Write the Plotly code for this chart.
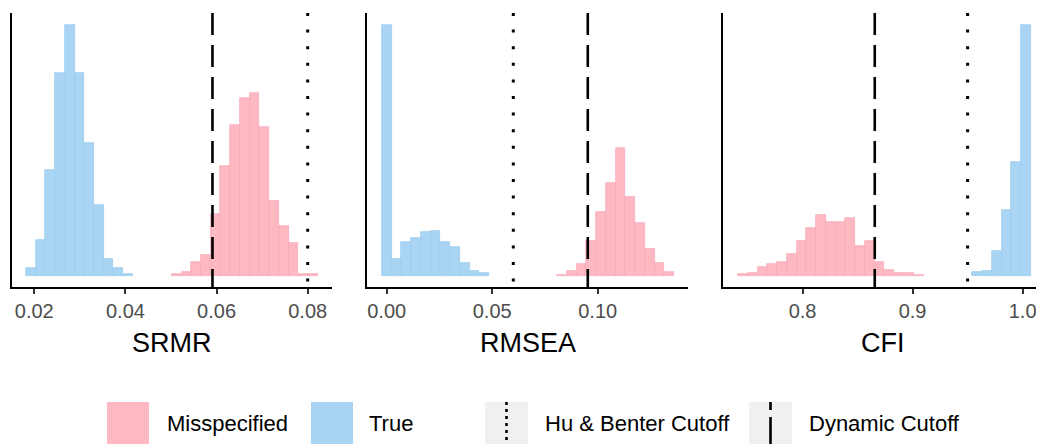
import plotly.graph_objects as go

# ---------------- data ----------------
N_BINS = 30
panels = ["SRMR", "RMSEA", "CFI"]

# histogram bin layout (first edge, bin width) per index
srmr_bin_start, srmr_bin_width = 0.01817, 0.002134
rmsea_bin_start, rmsea_bin_width = -0.00231, 0.004617
cfi_bin_start, cfi_bin_width = 0.7414, 0.00887

# counts per bin (30 bins each)
srmr_true = [8, 35, 102, 196, 242, 196, 128, 68, 16, 8, 2] + [0] * 19
srmr_mis = [0] * 15 + [2, 4, 13, 20, 60, 106, 146, 172, 176, 144, 72, 48, 32, 2, 2]

rmsea_true = [490, 34, 66, 75, 85, 87, 66, 56, 25, 10, 6] + [0] * 19
rmsea_mis = [0] * 18 + [2, 10, 23, 69, 124, 181, 249, 154, 104, 52, 25, 8]

cfi_mis = [5, 7, 19, 25, 30, 48, 75, 104, 131, 117, 116, 124, 65, 75, 29, 13, 7, 6, 2] + [0] * 11
cfi_true = [0] * 24 + [9, 11, 54, 142, 245, 540]

# cutoffs
hu_bentler_cutoff = [0.08, 0.06, 0.95]
dynamic_cutoff = [0.0591, 0.0953, 0.8656]

# axis ticks
srmr_ticks = [0.02, 0.04, 0.06, 0.08]
srmr_ticklabels = ["0.02", "0.04", "0.06", "0.08"]
rmsea_ticks = [0.00, 0.05, 0.10]
rmsea_ticklabels = ["0.00", "0.05", "0.10"]
cfi_ticks = [0.8, 0.9, 1.0]
cfi_ticklabels = ["0.8", "0.9", "1.0"]

# x ranges of panels
srmr_range = [0.01511, 0.08533]
rmsea_range = [-0.00934, 0.1428]
cfi_range = [0.7277, 1.0185]

legend_labels = ["Misspecified", "True", "Hu & Benter Cutoff", "Dynamic Cutoff"]

# ---------------- style ----------------
OFF = 8  # page body margin
W, H = 1044 - OFF, 444 - OFF
PINK = "#FDB8C2"
PINK_LINE = "#F4A8B4"
BLUE = "#A9D4F3"
BLUE_LINE = "#98C8EE"
FONT = "Liberation Sans, Arial, sans-serif"
DASH = "22px,10px"
DOT = "3px,13.6px"


def px_x(px):
    return (px - OFF) / W


def px_y(py):
    return 1 - (py - OFF) / H


panel_px = [(12, 332), (367, 688), (723, 1043)]
top_px, bot_px = 13, 287
title_y_px = 343

specs = [
    (srmr_bin_start, srmr_bin_width, srmr_mis, srmr_true, srmr_ticks, srmr_ticklabels, srmr_range),
    (rmsea_bin_start, rmsea_bin_width, rmsea_mis, rmsea_true, rmsea_ticks, rmsea_ticklabels, rmsea_range),
    (cfi_bin_start, cfi_bin_width, cfi_mis, cfi_true, cfi_ticks, cfi_ticklabels, cfi_range),
]

fig = go.Figure()
shapes = []
annotations = []
layout_axes = {}

for i, (b0, bw, mis, tru, ticks, ticklabels, xr) in enumerate(specs):
    n = "" if i == 0 else str(i + 1)
    xa, ya = "x" + n, "y" + n
    for counts, fill, line, name in [(mis, PINK, PINK_LINE, "Misspecified"), (tru, BLUE, BLUE_LINE, "True")]:
        xs = [b0 + bw * (k + 0.5) for k in range(N_BINS) if counts[k] > 0]
        ys = [c for c in counts if c > 0]
        fig.add_trace(go.Bar(
            x=xs, y=ys, width=bw, xaxis=xa, yaxis=ya, name=name,
            marker=dict(color=fill, line=dict(color=line, width=0.7)),
            showlegend=False, hoverinfo="x+y",
        ))
    M = max(max(mis), max(tru))
    layout_axes["xaxis" + n] = dict(
        domain=[px_x(panel_px[i][0]), px_x(panel_px[i][1])],
        range=xr, anchor=ya, showgrid=False, zeroline=False,
        showline=True, linecolor="black", linewidth=2,
        ticks="outside", ticklen=5, tickwidth=1.6, tickcolor="#333333",
        tickvals=ticks, ticktext=ticklabels,
        tickfont=dict(family=FONT, size=20, color="#4D4D4D"),
    )
    layout_axes["yaxis" + n] = dict(
        domain=[px_y(bot_px), px_y(top_px)],
        range=[-0.044 * M, 1.048 * M], anchor=xa, showgrid=False, zeroline=False,
        showline=True, linecolor="black", linewidth=2, showticklabels=False, ticks="",
    )
    # axis title
    annotations.append(dict(text=panels[i], xref="paper", yref="paper",
                            x=px_x((panel_px[i][0] + panel_px[i][1]) / 2), y=px_y(title_y_px),
                            xanchor="center", yanchor="middle", showarrow=False,
                            font=dict(family=FONT, size=27, color="black")))
    shapes.append(dict(type="line", xref=xa, yref=ya + " domain", x0=dynamic_cutoff[i], x1=dynamic_cutoff[i],
                       y0=1, y1=0, line=dict(color="black", width=2.6, dash=DASH), layer="above"))
    shapes.append(dict(type="line", xref=xa, yref=ya + " domain", x0=hu_bentler_cutoff[i], x1=hu_bentler_cutoff[i],
                       y0=1, y1=0, line=dict(color="black", width=3, dash=DOT), layer="above"))

# ---------------- custom legend ----------------
leg_top, leg_bot = 402, 444
leg_mid = (leg_top + leg_bot) / 2
legend_items = [
    (107, 149, PINK, None, 165),
    (311, 353, BLUE, None, 367),
    (485, 528, "#F0F0F3", "3px,4px", 543),
    (749, 792, "#F0F0F3", "8px,7px,40px,5px", 807),
]
for (x0, x1, fill, dash, tx), label in zip(legend_items, legend_labels):
    shapes.append(dict(type="rect", xref="paper", yref="paper", x0=px_x(x0), x1=px_x(x1),
                       y0=px_y(leg_bot), y1=px_y(leg_top), fillcolor=fill, line=dict(width=0), layer="below"))
    if dash is not None:
        xm = (x0 + x1) / 2
        shapes.append(dict(type="line", xref="paper", yref="paper", x0=px_x(xm), x1=px_x(xm),
                           y0=px_y(leg_top), y1=px_y(leg_bot),
                           line=dict(color="black", width=2.6, dash=dash)))
    annotations.append(dict(text=label, xref="paper", yref="paper", x=px_x(tx), y=px_y(leg_mid),
                            xanchor="left", yanchor="middle", showarrow=False,
                            font=dict(family=FONT, size=22, color="black")))

fig.update_layout(
    width=W, height=H, margin=dict(l=0, r=0, t=0, b=0),
    paper_bgcolor="white", plot_bgcolor="white",
    barmode="overlay", bargap=0, showlegend=False,
    shapes=shapes, annotations=annotations,
    **layout_axes,
)

fig.write_html("out.html")
